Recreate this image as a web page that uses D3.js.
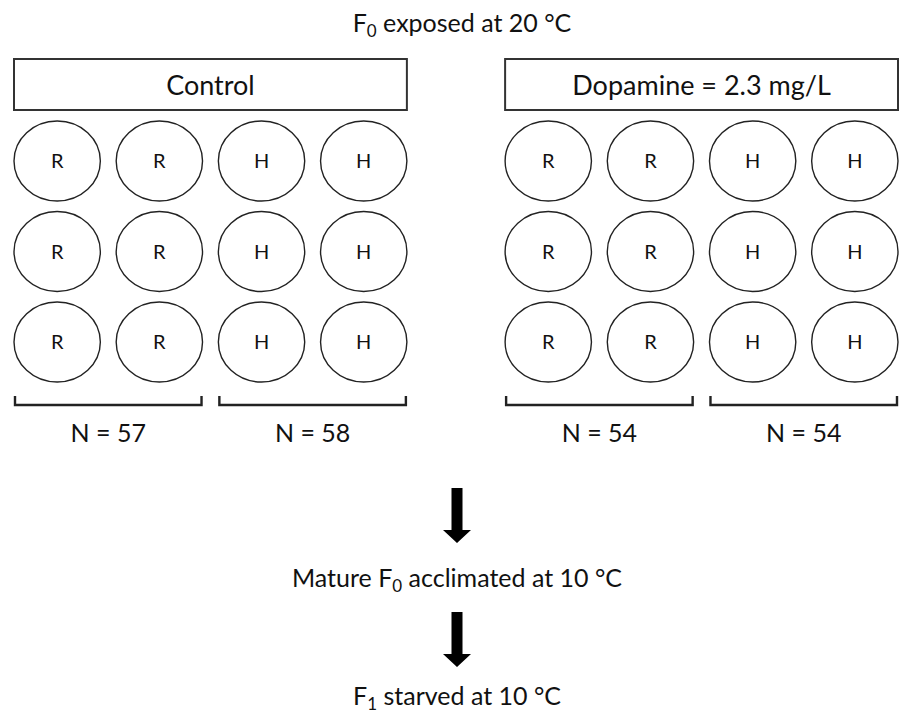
<!DOCTYPE html>
<html>
<head>
<meta charset="utf-8">
<script src="https://cdn.jsdelivr.net/npm/d3@7"></script>
<style>
  body { margin: 0; background: #fff; }
  svg text { font-family: Lato, "Open Sans", sans-serif; fill: #111; }
</style>
</head>
<body>
<div id="chart"></div>
<script>
// data
var groups = ["Control", "Dopamine = 2.3 mg/L"];
var wellLabels = ["R", "R", "H", "H"];
var wellRows = [0, 1, 2];
var sampleSizes = [[57, 58], [54, 54]];
var title = ["F", "0", " exposed at 20 °C"];
var steps = [
	["Mature F", "0", " acclimated at 10 °C"],
	["F", "1", " starved at 10 °C"]
];

var width = 901, height = 718;

var svg = d3.select("#chart").append("svg")
	.attr("width", width)
	.attr("height", height);

// panel + well scales
var panel_x = d3.scaleBand()
	.domain(groups)
	.range([14, 898])
	.paddingInner(0.2);
var col_x = d3.scaleBand()
	.domain(d3.range(wellLabels.length))
	.range([0, panel_x.bandwidth()])
	.paddingInner(0.155);
var row_y = d3.scalePoint()
	.domain(wellRows)
	.range([161, 342]);

function subText(sel, parts, subSize) {
	sel.append("tspan").text(parts[0]);
	sel.append("tspan").attr("dy", 5).attr("font-size", subSize).text(parts[1]);
	sel.append("tspan").attr("dy", -5).text(parts[2]);
}

svg.append("text")
	.attr("x", 462)
	.attr("y", 32)
	.attr("text-anchor", "middle")
	.attr("font-size", 25)
	.call(subText, title, 17);

var panels = svg.selectAll("g.panel")
	.data(groups)
	.enter()
	.append("g")
	.attr("class", "panel")
	.attr("transform", function(d) { return "translate(" + panel_x(d) + ",0)"; });

panels.append("rect")
	.attr("x", 0)
	.attr("y", 59)
	.attr("width", panel_x.bandwidth())
	.attr("height", 51)
	.attr("fill", "none")
	.attr("stroke", "#333")
	.attr("stroke-width", 2);

panels.append("text")
	.attr("x", panel_x.bandwidth() / 2)
	.attr("y", 95)
	.attr("text-anchor", "middle")
	.attr("font-size", 27)
	.text(function(d) { return d; });

// wells: 3 rows x 4 columns per panel
var cells = [];
wellRows.forEach(function(r) {
	wellLabels.forEach(function(l, c) {
		cells.push({row: r, col: c, label: l});
	});
});

var wells = panels.selectAll("g.well")
	.data(cells)
	.enter()
	.append("g")
	.attr("class", "well")
	.attr("transform", function(d) {
		return "translate(" + (col_x(d.col) + col_x.bandwidth() / 2) + "," + row_y(d.row) + ")";
	});

wells.append("ellipse")
	.attr("rx", col_x.bandwidth() / 2)
	.attr("ry", 40)
	.attr("fill", "none")
	.attr("stroke", "#222")
	.attr("stroke-width", 1.4);

wells.append("text")
	.attr("y", 7)
	.attr("text-anchor", "middle")
	.attr("font-size", 20)
	.text(function(d) { return d.label; });

// brackets and N under each pair of columns
var pairs = panels.selectAll("g.pair")
	.data(function(d, i) {
		return sampleSizes[i].map(function(n, j) { return {n: n, c0: j * 2, c1: j * 2 + 1}; });
	})
	.enter()
	.append("g")
	.attr("class", "pair");

pairs.append("path")
	.attr("d", function(d) {
		var x0 = col_x(d.c0) + 1, x1 = col_x(d.c1) + col_x.bandwidth() - 1;
		return "M" + x0 + ",396V405H" + x1 + "V396";
	})
	.attr("fill", "none")
	.attr("stroke", "#222")
	.attr("stroke-width", 2.4);

pairs.append("text")
	.attr("x", function(d) { return (col_x(d.c0) + col_x(d.c1) + col_x.bandwidth()) / 2; })
	.attr("y", 442)
	.attr("text-anchor", "middle")
	.attr("font-size", 25)
	.text(function(d) { return "N = " + d.n; });

// arrows and steps
var arrowTop = [488, 612];
var stepY = [587, 705];
var ax = 457;
steps.forEach(function(s, i) {
	var t = arrowTop[i];
	svg.append("path")
		.attr("d", "M" + (ax - 5.5) + "," + t + "H" + (ax + 5.5) + "V" + (t + 42) + "H" + (ax + 14) +
			"L" + ax + "," + (t + 55) + "L" + (ax - 14) + "," + (t + 42) + "H" + (ax - 5.5) + "Z")
		.attr("fill", "#000");
	svg.append("text")
		.attr("x", 457)
		.attr("y", stepY[i])
		.attr("text-anchor", "middle")
		.attr("font-size", 25)
		.call(subText, s, 17);
});
</script>
</body>
</html>
